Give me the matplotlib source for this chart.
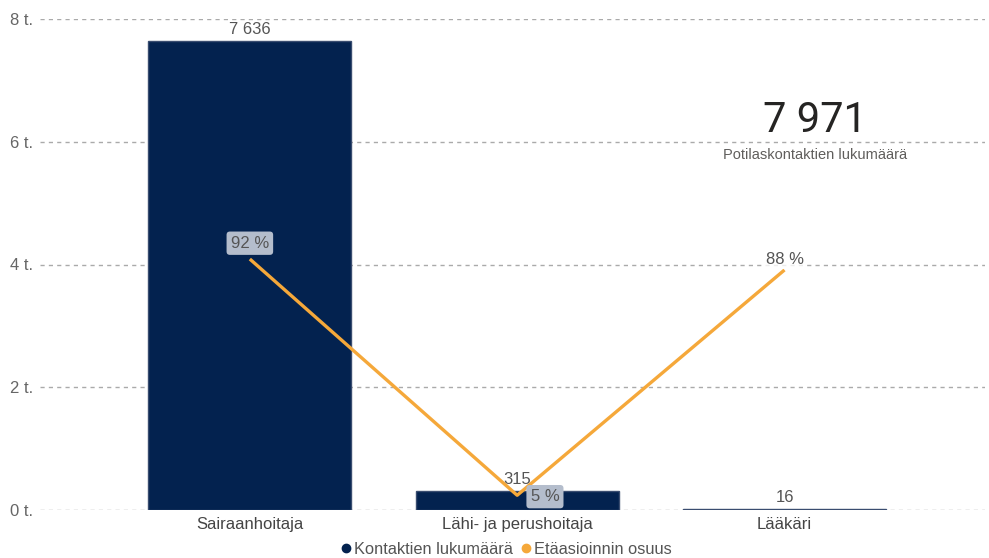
import matplotlib.pyplot as plt
from matplotlib.lines import Line2D

# data
categories = ['Sairaanhoitaja', 'Lähi- ja perushoitaja', 'Lääkäri']
contacts = [7636, 315, 16]
remote_share = [0.92, 0.054, 0.88]
total_contacts = 7971

bar_color = '#03224F'
line_color = '#F5A83A'
text_grey = '#555555'

plt.rcParams['font.family'] = ['Liberation Sans', 'DejaVu Sans']


def fmt_int(v):
    return f'{v:,}'.replace(',', ' ')


fig = plt.figure(figsize=(9.89, 5.58), dpi=100)
ax = fig.add_axes([40 / 989, 48 / 558, 945 / 989, 491 / 558])

x = list(range(len(categories)))
ax.bar(x, [c / 1000 for c in contacts], width=0.76, color=bar_color,
       edgecolor='#3A4D70', linewidth=1.0, zorder=2)

ax.set_xlim(-0.785, 2.75)
ax.set_ylim(0, 8)
ax.set_yticks([0, 2, 4, 6, 8])
ax.set_yticklabels([f'{t} t.' for t in [0, 2, 4, 6, 8]])
ax.set_xticks(x)
ax.set_xticklabels(categories)
ax.tick_params(axis='y', length=0, pad=5, labelsize=12, labelcolor='#666666')
ax.tick_params(axis='x', length=0, pad=5, labelsize=12, labelcolor='#444444')
ax.grid(axis='y', linestyle=(0, (3, 3)), color='#AAAAAA', linewidth=1, zorder=0)
ax.set_axisbelow(True)
for s in ax.spines.values():
    s.set_visible(False)

# bar labels
for xi, c in zip(x, contacts):
    kw = {}
    if c == 315:
        kw = dict(bbox=dict(boxstyle='square,pad=0.1', fc='white', ec='none', alpha=0.7))
    ax.annotate(fmt_int(c), (xi, c / 1000), xytext=(0, 3), textcoords='offset points',
                ha='center', va='bottom', fontsize=12, color=text_grey, zorder=6, **kw)

# line on secondary axis
ax2 = ax.twinx()
ax2.set_ylim(0, 1.8)
ax2.axis('off')
ax2.plot(x, remote_share, color=line_color, linewidth=2.4, zorder=4,
         solid_capstyle='butt')

pct_box = dict(boxstyle='round,pad=0.25,rounding_size=0.2', fc='#B4BDCC', ec='none')
ax2.annotate('92 %', (0, remote_share[0]), xytext=(0, 6), textcoords='offset points',
             ha='center', va='bottom', fontsize=12, color=text_grey, bbox=pct_box, zorder=6)
ax2.annotate('5 %', (1, remote_share[1]), xytext=(20, -1), textcoords='offset points',
             ha='center', va='center', fontsize=12, color=text_grey, bbox=pct_box, zorder=6)
ax2.annotate('88 %', (2, remote_share[2]), xytext=(0, 2), textcoords='offset points',
             ha='center', va='bottom', fontsize=12, color=text_grey, zorder=6,
             bbox=dict(boxstyle='square,pad=0.1', fc='white', ec='none', alpha=0.8))

# KPI card
fig.text(815 / 989, 1 - 121 / 558, fmt_int(total_contacts), ha='center', va='center',
         fontsize=30, color='#252423', family=['Roboto', 'DejaVu Sans'])
fig.text(815 / 989, 1 - 155 / 558, 'Potilaskontaktien lukumäärä', ha='center', va='center',
         fontsize=10.5, color='#605E5C')

# legend
handles = [Line2D([], [], marker='o', linestyle='none', markersize=6, color=bar_color),
           Line2D([], [], marker='o', linestyle='none', markersize=6, color=line_color)]
fig.legend(handles, ['Kontaktien lukumäärä', 'Etäasioinnin osuus'], loc='center',
           bbox_to_anchor=(505 / 989, 1 - 549 / 558), ncol=2, frameon=False,
           fontsize=11.8, labelcolor=text_grey, handletextpad=0.0, columnspacing=0.3,
           handlelength=1.0)

fig.savefig('out.png', dpi=100)
